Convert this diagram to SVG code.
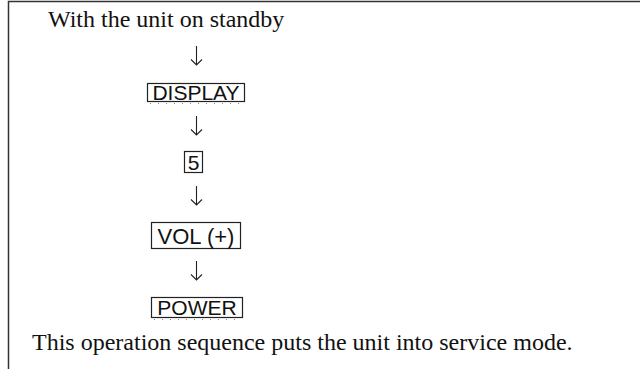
<svg xmlns="http://www.w3.org/2000/svg" width="640" height="369" viewBox="0 0 640 369">
<style>
.serif{font-family:"Liberation Serif","Times New Roman",serif;font-size:24px;fill:#111}
.key{font-family:"Liberation Sans",Arial,sans-serif;font-size:21px;fill:#111;text-anchor:middle}
.box{fill:#fff;stroke:#222;stroke-width:1.2}
.dots{fill:none;stroke:#888;stroke-width:1;stroke-dasharray:1 7}
.arr{fill:none;stroke:#222;stroke-width:1.1}
.frame{fill:none;stroke:#333;stroke-width:1.5}
</style>
<rect width="640" height="369" fill="#fff"/>
<path class="frame" d="M8.5 369 V1.5 H640"/>
<g id="start"><text class="serif" x="48" y="27">With the unit on standby</text></g>
<g id="display"><rect class="box" x="147.5" y="83.5" width="97" height="18"/><path class="dots" d="M150 103.5 H243"/><text class="key" x="196" y="100">DISPLAY</text></g>
<g id="five"><rect class="box" x="184.5" y="151.5" width="18" height="21"/><text class="key" x="193.5" y="170">5</text></g>
<g id="vol"><rect class="box" x="151.5" y="222.5" width="89" height="26"/><text class="key" x="196" y="244" style="font-size:22px">VOL (+)</text></g>
<g id="power"><rect class="box" x="151.5" y="297.5" width="91" height="20"/><path class="dots" d="M154 319.5 H241"/><text class="key" x="197" y="315">POWER</text></g>
<g id="end"><text class="serif" x="32" y="350">This operation sequence puts the unit into service mode.</text></g>
<g id="connectors">
<path class="arr" d="M196.5 46 V65 M191 59.5 L196.5 65 L202 59.5"/>
<path class="arr" d="M196.5 116 V135 M191 129.5 L196.5 135 L202 129.5"/>
<path class="arr" d="M196.5 186 V205 M191 199.5 L196.5 205 L202 199.5"/>
<path class="arr" d="M196.5 261 V280 M191 274.5 L196.5 280 L202 274.5"/>
</g>
</svg>
